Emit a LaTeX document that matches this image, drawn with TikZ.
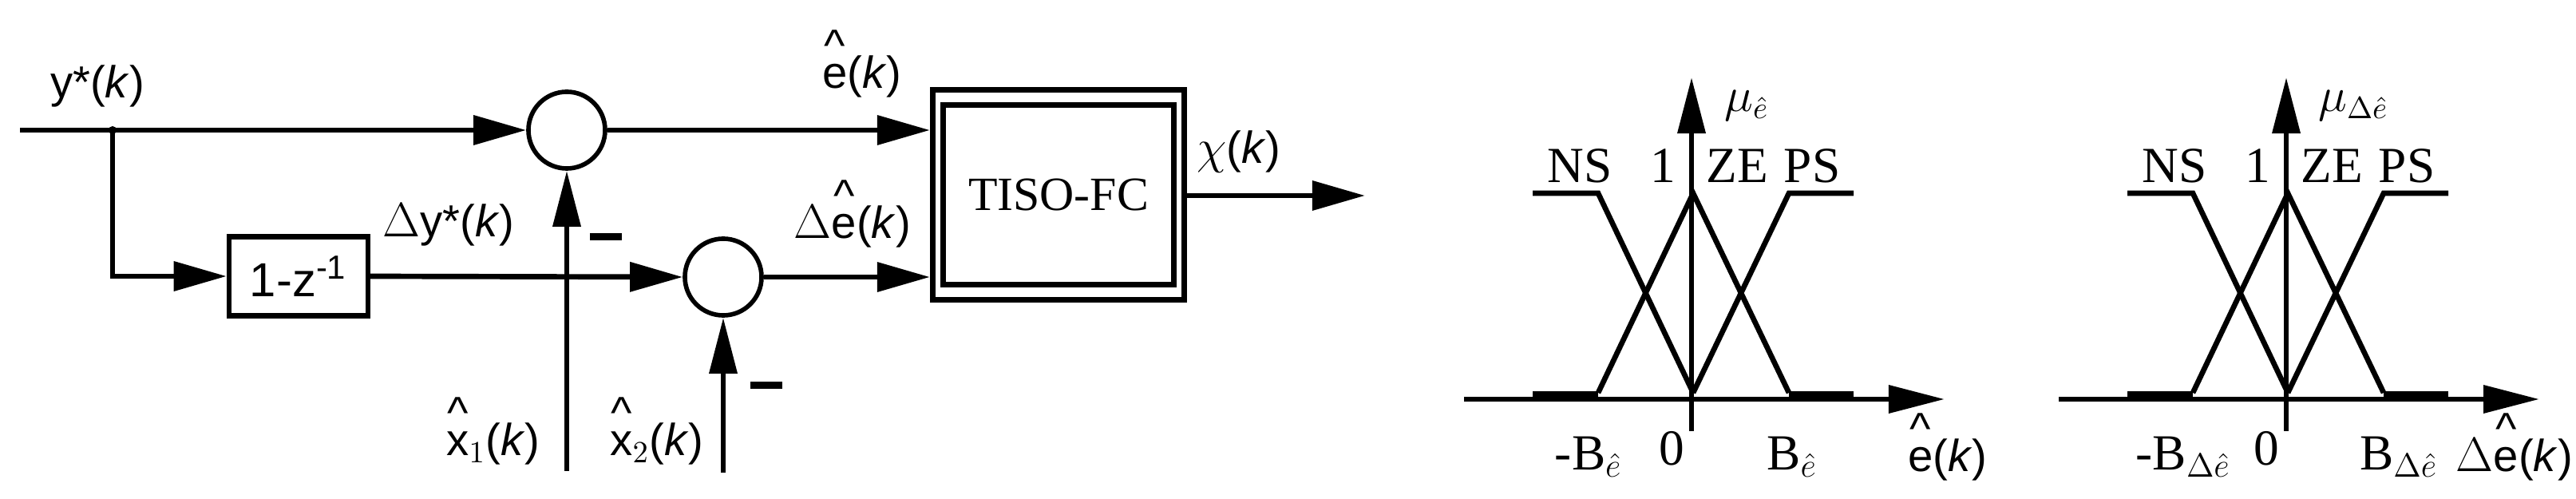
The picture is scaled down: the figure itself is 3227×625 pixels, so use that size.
\documentclass[tikz,border=0pt]{standalone}
\usepackage{fontspec}
\setmainfont{Liberation Serif}
\setsansfont{Liberation Sans}
\usetikzlibrary{arrows.meta}
\newcommand\hatt[1]{\leavevmode\vbox{\offinterlineskip\halign{\hfil##\hfil\cr\^{}\cr\noalign{\kern1pt}#1\cr}}}
\tikzset{
  ln/.style={line width=1.9pt},
  arr/.style={ln,-{Triangle[length=0.66cm,width=0.36cm]}},
  sarr/.style={ln,-{Triangle[length=0.7cm,width=0.34cm]}},
  sumc/.style={circle,draw,line width=1.6pt,minimum size=0.96cm,inner sep=0pt},
  lbl/.style={font=\sffamily\fontsize{16}{18}\selectfont,inner sep=0pt},
  mfl/.style={font=\fontsize{18}{20}\selectfont,inner sep=0pt},
}
\begin{document}
\begin{tikzpicture}[x=0.01cm,y=-0.01cm]
\useasboundingbox (0,0) rectangle (3227,625);
% block diagram
\coordinate (start) at (25,163);
\coordinate (j) at (141,163);
\node[sumc] (s1) at (710,163) {};
\node[sumc] (s2) at (906,347) {};
\node[draw,line width=1.8pt,minimum width=1.74cm,minimum height=0.99cm,inner sep=0pt,font=\sffamily\fontsize{17}{19}\selectfont] (d) at (374,346) {1-z\textsuperscript{-1}};
\node[draw,line width=2pt,minimum width=3.15cm,minimum height=2.62cm] (fc) at (1326,244) {};
\node[draw,line width=2pt,minimum width=2.88cm,minimum height=2.24cm,font=\fontsize{17}{19}\selectfont] (fcin) at (1326,244) {TISO-FC};
\coordinate (out) at (1710,245);
\coordinate (x1) at (710,590);
\coordinate (x2) at (906,592);
\fill (j) circle (5);
\draw[ln] (start) -- (j);
\draw[arr] (j) -- (s1.west);
\draw[arr] (j) |- (d.west);
\draw[arr] (d.east) -- (s2.west);
\draw[arr] (s1.east) -- (s1 -| fc.west);
\draw[arr] (s2.east) -- (s2 -| fc.west);
\draw[arr] (fc.east |- out) -- (out);
\draw[sarr] (x1) -- (s1.south);
\draw[sarr] (x2) -- (s2.south);
\node[lbl] (ly) at (122,108) {y*(\textit{k})};
\node[lbl] (le) at (1080,80) {\hatt{e}(\textit{k})};
\node[lbl] (lde) at (1068,268) {$\Delta$\hatt{e}(\textit{k})};
\node[lbl] (ldy) at (562,282) {$\Delta$y*(\textit{k})};
\node[lbl] (lchi) at (1552,190) {$\chi$(\textit{k})};
\node[lbl] (lx1) at (618,540) {\hatt{x}$_1$(\textit{k})};
\node[lbl] (lx2) at (823,540) {\hatt{x}$_2$(\textit{k})};
\fill (739,292) rectangle (779,301);
\fill (940,478) rectangle (980,487);
% membership functions
\foreach \o/\n in {0/a,745/b}{
\begin{scope}[xshift=\o*0.01cm]
\draw[sarr] (1834,500) -- (2436,500);
\draw[sarr] (2119,540) -- (2119,97);
\draw[ln] (1920,242) -- (2002,242) -- (2121,492);
\draw[ln] (2002,492) -- (2121,242) -- (2241,492);
\draw[ln] (2121,492) -- (2241,242) -- (2322,242);
\draw[line width=3pt] (1920,495) -- (2002,495);
\draw[line width=3pt] (2241,495) -- (2322,495);
\node[mfl] at (1979,208) {NS};
\node[mfl] at (2083,208) {1};
\node[mfl] at (2176,208) {ZE};
\node[mfl] at (2270,208) {PS};
\node[mfl] at (2094,562) {0};
\end{scope}}
\node[lbl] at (2188,132) {$\mu_{\hat e}$};
\node[lbl] at (2948,132) {$\mu_{\Delta\hat e}$};
\node[mfl] at (1990,572) {-B$_{\hat e}$};
\node[mfl] at (2245,572) {B$_{\hat e}$};
\node[mfl] at (2735,572) {-B$_{\Delta\hat e}$};
\node[mfl] at (3005,572) {B$_{\Delta\hat e}$};
\node[lbl] at (2440,560) {\hatt{e}(\textit{k})};
\node[lbl] at (3150,560) {$\Delta$\hatt{e}(\textit{k})};
\end{tikzpicture}
\end{document}
